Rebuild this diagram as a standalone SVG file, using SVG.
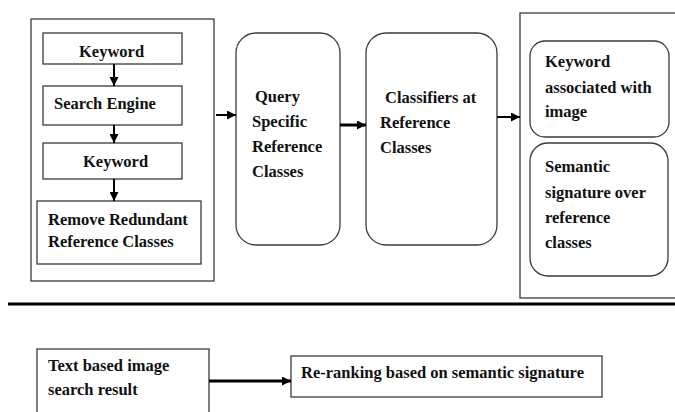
<svg xmlns="http://www.w3.org/2000/svg" width="675" height="412" viewBox="0 0 675 412">
<defs>
<marker id="ah" viewBox="0 0 10 10" refX="10" refY="5" markerWidth="9" markerHeight="9" markerUnits="userSpaceOnUse" orient="auto">
<path d="M0,0 L10,5 L0,10 z" fill="#000"/>
</marker>
</defs>
<style>
.box{fill:#fff;stroke:#3a3a3a;stroke-width:1.3}
.t{font-family:"Liberation Serif","Times New Roman",serif;font-weight:bold;font-size:16.5px;fill:#111}
.c{stroke:#000;stroke-width:2;fill:none;marker-end:url(#ah)}
.c3{stroke:#000;stroke-width:3;fill:none;marker-end:url(#ah)}
</style>
<rect width="675" height="412" fill="#fff"/>
<g id="left-group">
<rect class="box" x="31" y="19" width="183" height="262"/>
</g>
<g id="keyword1">
<rect class="box" x="43" y="33" width="139" height="31"/>
<text class="t" x="79" y="57">Keyword</text>
</g>
<g id="search-engine">
<rect class="box" x="43" y="86" width="139" height="39"/>
<text class="t" x="54" y="109">Search Engine</text>
</g>
<g id="keyword2">
<rect class="box" x="43" y="143" width="139" height="36"/>
<text class="t" x="83" y="167">Keyword</text>
</g>
<g id="remove">
<rect class="box" x="37" y="201" width="164" height="63"/>
<text class="t" x="48" y="225">Remove Redundant</text>
<text class="t" x="48" y="247">Reference Classes</text>
</g>
<g id="query">
<rect class="box" x="236" y="33" width="104" height="212" rx="20" ry="20"/>
<text class="t" x="255" y="102">Query</text>
<text class="t" x="252" y="127">Specific</text>
<text class="t" x="252" y="152">Reference</text>
<text class="t" x="252" y="177">Classes</text>
</g>
<g id="classifiers">
<rect class="box" x="366" y="33" width="131" height="212" rx="20" ry="20"/>
<text class="t" x="385" y="103">Classifiers at</text>
<text class="t" x="380" y="128">Reference</text>
<text class="t" x="380" y="153">Classes</text>
</g>
<g id="right-group">
<rect class="box" x="520" y="13" width="170" height="285"/>
</g>
<g id="keyword-assoc">
<rect class="box" x="530" y="41" width="139" height="96" rx="15" ry="15"/>
<text class="t" x="545" y="67">Keyword</text>
<text class="t" x="545" y="93">associated with</text>
<text class="t" x="545" y="117">image</text>
</g>
<g id="semantic">
<rect class="box" x="530" y="143" width="138" height="133" rx="18" ry="18"/>
<text class="t" x="545" y="172">Semantic</text>
<text class="t" x="545" y="198">signature over</text>
<text class="t" x="545" y="223">reference</text>
<text class="t" x="545" y="248">classes</text>
</g>
<g id="text-based">
<rect class="box" x="37" y="349" width="172" height="70"/>
<text class="t" x="48" y="371">Text based image</text>
<text class="t" x="48" y="395">search result</text>
</g>
<g id="reranking">
<rect class="box" x="291" y="356" width="311" height="41"/>
<text class="t" x="301" y="378">Re-ranking based on semantic signature</text>
</g>
<g id="connectors">
<line class="c" x1="114" y1="64" x2="114" y2="86"/>
<line class="c" x1="114" y1="125" x2="114" y2="143"/>
<line class="c" x1="114" y1="179" x2="114" y2="201"/>
<line class="c" x1="216" y1="115" x2="236" y2="115"/>
<line class="c3" x1="340" y1="125" x2="366" y2="125"/>
<line class="c" x1="497" y1="117" x2="520" y2="117"/>
<line class="c3" x1="209" y1="381" x2="291" y2="381"/>
</g>
<line x1="8" y1="304" x2="675" y2="304" stroke="#000" stroke-width="3"/>
</svg>
